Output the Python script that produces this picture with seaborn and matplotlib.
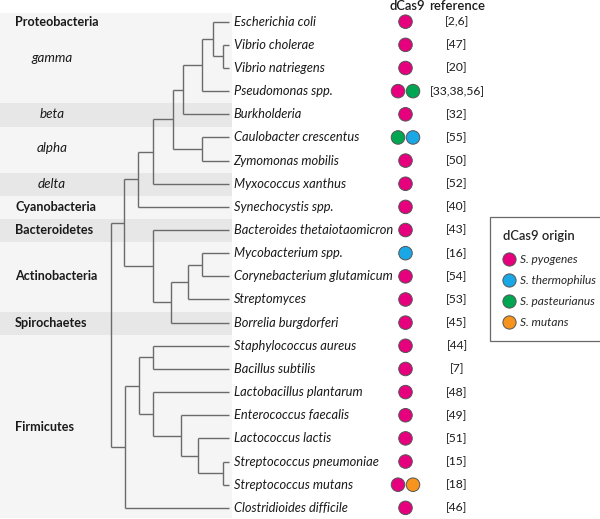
import numpy as np
import pandas as pd
import matplotlib
matplotlib.use("Agg")
import matplotlib.pyplot as plt
from matplotlib.lines import Line2D
from matplotlib.patches import Rectangle
import seaborn as sns

sns.set_style("white")
plt.rcParams['font.family'] = ['Lato', 'DejaVu Sans']

# ---------------- data ----------------
species = [
    "Escherichia coli", "Vibrio cholerae", "Vibrio natriegens", "Pseudomonas spp.",
    "Burkholderia", "Caulobacter crescentus", "Zymomonas mobilis", "Myxococcus xanthus",
    "Synechocystis spp.", "Bacteroides thetaiotaomicron", "Mycobacterium spp.",
    "Corynebacterium glutamicum", "Streptomyces", "Borrelia burgdorferi",
    "Staphylococcus aureus", "Bacillus subtilis", "Lactobacillus plantarum",
    "Enterococcus faecalis", "Lactococcus lactis", "Streptococcus pneumoniae",
    "Streptococcus mutans", "Clostridioides difficile",
]
references = ["[2,6]", "[47]", "[20]", "[33,38,56]", "[32]", "[55]", "[50]", "[52]",
              "[40]", "[43]", "[16]", "[54]", "[53]", "[45]", "[44]", "[7]", "[48]",
              "[49]", "[51]", "[15]", "[18]", "[46]"]
dcas9 = [
    ["S. pyogenes"], ["S. pyogenes"], ["S. pyogenes"], ["S. pyogenes", "S. pasteurianus"],
    ["S. pyogenes"], ["S. pasteurianus", "S. thermophilus"], ["S. pyogenes"], ["S. pyogenes"],
    ["S. pyogenes"], ["S. pyogenes"], ["S. thermophilus"], ["S. pyogenes"], ["S. pyogenes"],
    ["S. pyogenes"], ["S. pyogenes"], ["S. pyogenes"], ["S. pyogenes"], ["S. pyogenes"],
    ["S. pyogenes"], ["S. pyogenes"], ["S. pyogenes", "S. mutans"], ["S. pyogenes"],
]
origins = ["S. pyogenes", "S. thermophilus", "S. pasteurianus", "S. mutans"]
origin_colors = ["#E6007E", "#1AA7E6", "#00A651", "#F7941D"]

# taxonomic groups
group_labels = ["Proteobacteria", "gamma", "beta", "alpha", "delta", "Cyanobacteria",
                "Bacteroidetes", "Actinobacteria", "Spirochaetes", "Firmicutes"]
group_first = [0, 0, 4, 5, 7, 8, 9, 10, 13, 14]
group_last = [3, 3, 4, 6, 7, 8, 9, 12, 13, 21]
group_label_row = [0, 1.55, 4, 5.45, 7, 8, 9, 11, 13, 17.5]
group_bold = [True, False, False, False, False, True, True, True, True, True]
group_dark = [None, False, True, False, True, False, True, False, True, False]

# tree: internal node name, depth (branch position), children
tree_nodes = [
    ("vib", 223, ["Vibrio cholerae", "Vibrio natriegens"]),
    ("ecvib", 212.7, ["Escherichia coli", "vib"]),
    ("pse", 202.3, ["ecvib", "Pseudomonas spp."]),
    ("burk", 183.3, ["pse", "Burkholderia"]),
    ("caulo", 202.3, ["Caulobacter crescentus", "Zymomonas mobilis"]),
    ("alpha", 172.7, ["burk", "caulo"]),
    ("myxo", 153.3, ["alpha", "Myxococcus xanthus"]),
    ("syn", 138.3, ["myxo", "Synechocystis spp."]),
    ("myco", 201.7, ["Mycobacterium spp.", "Corynebacterium glutamicum"]),
    ("strepto", 187.7, ["myco", "Streptomyces"]),
    ("actino", 171, ["strepto", "Borrelia burgdorferi"]),
    ("bact", 153.3, ["Bacteroides thetaiotaomicron", "actino"]),
    ("upper", 124, ["syn", "bact"]),
    ("staph", 153.3, ["Staphylococcus aureus", "Bacillus subtilis"]),
    ("strep", 223.3, ["Streptococcus pneumoniae", "Streptococcus mutans"]),
    ("lactococ", 197.7, ["Lactococcus lactis", "strep"]),
    ("entero", 180.7, ["Enterococcus faecalis", "lactococ"]),
    ("lacto", 153.3, ["Lactobacillus plantarum", "entero"]),
    ("bacilli", 139, ["staph", "lacto"]),
    ("firm", 125, ["bacilli", "Clostridioides difficile"]),
    ("root", 111, ["upper", "firm"]),
]
tip_depth = 229

# ---------------- layout ----------------
W, H = 600, 519
row0_px, row_step_px = 21.7, 23.15
fig = plt.figure(figsize=(W / 100, H / 100), dpi=100)
ax = fig.add_axes([0, 0, 1, 1])
ax.set_xlim(0, W)
ax.set_ylim((H - row0_px) / row_step_px, -row0_px / row_step_px)
ax.axis("off")

light, dark = "#F5F5F5", "#E7E7E7"
band_left, band_right = 0, 232
band_top, band_bottom = -0.37, 21.45
txt = "#1A1A1A"

# bands
for lab, f, l, dk in zip(group_labels, group_first, group_last, group_dark):
    if dk is None:
        continue
    top = band_top if f == 0 else f - 0.47
    bot = band_bottom if l == len(species) - 1 else l + 0.53
    ax.add_patch(Rectangle((band_left, top), band_right - band_left, bot - top,
                           facecolor=dark if dk else light, edgecolor="none", zorder=0))

# group labels
for lab, r, b in zip(group_labels, group_label_row, group_bold):
    if b:
        ax.text(15, r, lab, fontsize=9.1, fontweight="bold", ha="left", va="center",
                color=txt)
    else:
        ax.text(52, r, lab, fontsize=9.6, fontstyle="italic", ha="center", va="center",
                color=txt)

# tree
pos = {name: (tip_depth, i) for i, name in enumerate(species)}
for name, depth, children in tree_nodes:
    ys = [pos[c][1] for c in children]
    pos[name] = (depth, (min(ys) + max(ys)) / 2)
    ax.plot([depth, depth], [min(ys), max(ys)], color="#6B6B6B", lw=1.0,
            solid_capstyle="butt", zorder=2)
    for c in children:
        cx, cy = pos[c]
        ax.plot([depth, cx], [cy, cy], color="#6B6B6B", lw=1.0,
                solid_capstyle="butt", zorder=2)

# species labels
for i, s in enumerate(species):
    ax.text(233.5, i, s, fontsize=9.3, fontstyle="italic", ha="left", va="center",
            color=txt)

# dCas9 dots
dot_center, dot_gap = 405.5, 15
rows, xs, ors = [], [], []
for i, lst in enumerate(dcas9):
    n = len(lst)
    for k, o in enumerate(lst):
        rows.append(i)
        xs.append(dot_center + (k - (n - 1) / 2) * dot_gap)
        ors.append(o)
dots = pd.DataFrame({"row": rows, "x": xs, "origin": ors})
sns.scatterplot(data=dots, x="x", y="row", hue="origin", hue_order=origins,
                palette=dict(zip(origins, origin_colors)), s=95, edgecolor="#555555",
                linewidth=0.7, legend=False, ax=ax, zorder=3)

# references
for i, r in enumerate(references):
    ax.text(457, i, r, fontsize=8.7, ha="center", va="center", color=txt)

# headers
ax.text(407, -0.66, "dCas9", fontsize=9.4, fontweight="semibold", ha="center",
        va="center", color=txt)
ax.text(457, -0.66, "reference", fontsize=9.4, fontweight="semibold", ha="center",
        va="center", color=txt)

# legend
handles = [Line2D([], [], marker="o", linestyle="none", markersize=9.5,
                  markerfacecolor=c, markeredgecolor="#555555", markeredgewidth=0.7)
           for c in origin_colors]
leg = ax.legend(handles, origins, title="dCas9 origin", loc="upper left",
                bbox_to_anchor=(490 / W, 1 - 217 / H), bbox_transform=fig.transFigure,
                frameon=True, fancybox=False, edgecolor="#444444",
                prop={"style": "italic", "size": 8.6},
                title_fontproperties={"weight": "semibold", "size": 9.4},
                alignment="left", handletextpad=0.35, labelspacing=0.85,
                borderpad=1.05, handlelength=1.1, borderaxespad=0)
leg.get_frame().set_linewidth(0.9)
leg._legend_box.sep = 9

fig.savefig("out.png", dpi=100)
